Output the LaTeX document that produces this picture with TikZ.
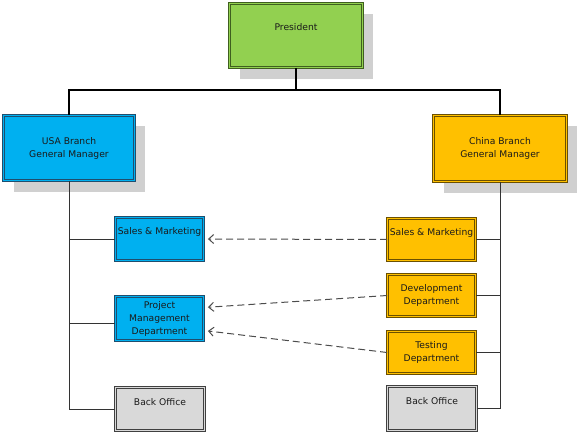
\documentclass[tikz,border=0pt]{standalone}
\usepackage{fontspec}
\setmainfont{DejaVu Sans}
\usetikzlibrary{arrows.meta,shadows}
\definecolor{presfill}{HTML}{92D050}
\definecolor{presline}{HTML}{3F5F1F}
\definecolor{usafill}{HTML}{00B0F0}
\definecolor{usaline}{HTML}{1F4E6E}
\definecolor{chnfill}{HTML}{FFC000}
\definecolor{chnline}{HTML}{6B5000}
\definecolor{bofill}{HTML}{D9D9D9}
\definecolor{boline}{HTML}{404040}
\definecolor{shadowgray}{HTML}{D0D0D0}
\definecolor{txtcol}{HTML}{1A1A1A}
\tikzset{
  box/.style={rectangle, draw=#1line, double=#1fill, fill=#1fill,
    line width=0.7pt, double distance=1.2pt, inner sep=0pt},
  txt/.style={font=\fontsize{9.2}{13}\selectfont, text=txtcol, align=center, inner sep=0pt},
  shadowed/.style={drop shadow={shadow xshift=10.5pt, shadow yshift=-11pt,
    fill=shadowgray, opacity=1}},
  thickconn/.style={line width=2.8pt, draw=black},
  thinconn/.style={line width=1pt, draw=black!80},
  dashconn/.style={dash pattern=on 7pt off 4pt, draw=black!70, line width=1pt,
    -{Straight Barb[length=5pt,width=9pt]}, shorten >=4pt},
}
\begin{document}
\begin{tikzpicture}[x=1pt,y=-1pt]
\useasboundingbox (0,0) rectangle (580,433);

% top level
\node[box=pres, shadowed, minimum width=133.2pt, minimum height=64.2pt,
  label={[txt,yshift=8pt]center:President}] (pres) at (296,35.5) {};
\node[box=usa, shadowed, minimum width=131.2pt, minimum height=65.2pt,
  label={[txt]center:{USA Branch\\General Manager}}] (usa) at (69,148) {};
\node[box=chn, shadowed, minimum width=133.2pt, minimum height=66.2pt,
  label={[txt]center:{China Branch\\General Manager}}] (china) at (500,148.5) {};

% USA departments
\node[box=usa, minimum width=88.2pt, minimum height=43.2pt,
  label={[txt,yshift=7pt]center:{Sales \& Marketing}}] (usales) at (159.5,239) {};
\node[box=usa, minimum width=88.2pt, minimum height=44.2pt,
  label={[txt]center:{Project\\Management\\Department}}] (upm) at (159.5,318.5) {};
\node[box=bo, minimum width=89.2pt, minimum height=43.2pt,
  label={[txt,yshift=7pt]center:{Back Office}}] (uback) at (160,409) {};

% China departments
\node[box=chn, minimum width=88.2pt, minimum height=42.2pt,
  label={[txt,yshift=7pt]center:{Sales \& Marketing}}] (csales) at (431.5,239.5) {};
\node[box=chn, minimum width=88.2pt, minimum height=42.2pt,
  label={[txt]center:{Development\\Department}}] (cdev) at (431.5,295.5) {};
\node[box=chn, minimum width=88.2pt, minimum height=42.2pt,
  label={[txt]center:{Testing\\Department}}] (ctest) at (431.5,352.5) {};
\node[box=bo, minimum width=89.2pt, minimum height=44.2pt,
  label={[txt,yshift=7pt]center:{Back Office}}] (cback) at (432,408.5) {};

% top connectors
\coordinate (bar) at (296,90);
\draw[thickconn] (pres.south) -- (pres.south |- bar);
\draw[thickconn] (usa.north) -- (usa.north |- bar) -- (china.north |- bar) -- (china.north);

% USA trunk
\coordinate (upmin) at ([yshift=-4.5pt]upm.west);
\draw[thinconn] (usa.south) |- (uback.west);
\draw[thinconn] (usa.south |- usales.west) -- (usales.west);
\draw[thinconn] (usa.south |- upmin) -- (upmin);

% China trunk
\draw[thinconn] (china.south) |- (cback.east);
\draw[thinconn] (china.south |- csales.east) -- (csales.east);
\draw[thinconn] (china.south |- cdev.east) -- (cdev.east);
\draw[thinconn] (china.south |- ctest.east) -- (ctest.east);

% dashed links
\draw[dashconn] (csales.west) -- (usales.east);
\draw[dashconn] (cdev.west) -- ([yshift=11pt]upm.east);
\draw[dashconn] (ctest.west) -- ([yshift=-12pt]upm.east);
\end{tikzpicture}
\end{document}
